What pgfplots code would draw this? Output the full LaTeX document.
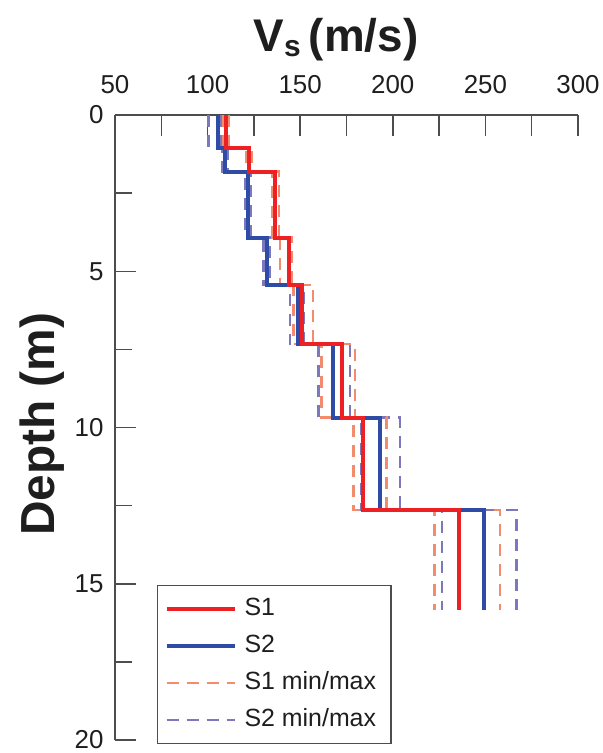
\documentclass[border=0pt]{standalone}
\usepackage{fontspec}
\setmainfont{Liberation Sans}
\usepackage{pgfplots}
\pgfplotsset{compat=1.18}
\definecolor{sred}{HTML}{ED2124}
\definecolor{sblue}{HTML}{2E4CA6}
\definecolor{dred}{HTML}{F28C6E}
\definecolor{dblue}{HTML}{7C78BE}
\definecolor{axgray}{HTML}{4D4D4D}
\definecolor{txt}{HTML}{1E1E1E}
\begin{document}
\begin{tikzpicture}
\begin{axis}[
  scale only axis, width=463bp, height=625bp,
  xmin=50, xmax=300, ymin=0, ymax=20, y dir=reverse,
  axis x line*=top, axis y line*=left,
  axis line style={draw=axgray, line width=1.5bp},
  tick align=inside,
  major tick length=21bp, minor tick length=17bp,
  tick style={draw=axgray, line width=1.5bp},
  xtick={50,75,...,300}, xticklabels={50,,100,,150,,200,,250,,300},
  ytick={0,5,...,20}, minor ytick={2.5,7.5,12.5,17.5},
  /pgf/number format/assume math mode=true,
  ticklabel style={font=\fontsize{26}{30}\selectfont, text=txt},
  xticklabel style={yshift=18bp},
  yticklabel style={xshift=-8bp},
  title={V{\fontsize{30}{32}\selectfont\raisebox{-5bp}{s}}\hspace{8bp}(m/s)},
  title style={at={(axis description cs:0.4773,1.092)}, anchor=base, font=\fontsize{46}{50}\selectfont\bfseries, text=txt},
  ylabel={Depth (m)},
  ylabel style={at={(axis description cs:-0.1577,0.505)}, anchor=center, font=\fontsize{48}{52}\selectfont\bfseries, text=txt},
  legend cell align=left,
  legend image code/.code={\draw[#1] (0bp,0bp) -- (68bp,0bp);},
  legend style={at={(axis description cs:0.0907,0.248)}, anchor=north west,
    draw=axgray, line width=1.2bp, fill=white,
    inner xsep=7bp, inner ysep=5bp,
    font=\fontsize{25}{28}\selectfont, text=txt,
    nodes={inner xsep=8bp, inner ysep=7.5bp, text height=17bp, text depth=5bp}},
  clip=false,
]
% S2 min / max
\addplot[dblue, line width=2.5bp, dash pattern=on 12bp off 8bp, forget plot] coordinates {
(100.5,0)(100.5,1.05)(108,1.05)(108,1.81)(120.3,1.81)(120.3,3.92)(130.2,3.92)(130.2,5.44)(144.5,5.44)(144.5,7.33)(160,7.33)(160,9.68)(182.7,9.68)(182.7,12.64)(226.7,12.64)(226.7,15.84)};
\addplot[dblue, line width=2.5bp, dash pattern=on 12bp off 8bp, forget plot] coordinates {
(107,0)(107,1.05)(110.8,1.05)(110.8,1.81)(123.3,1.81)(123.3,3.92)(133.7,3.92)(133.7,5.44)(152,5.44)(152,7.33)(177,7.33)(177,9.68)(203.9,9.68)(203.9,12.64)(266.9,12.64)(266.9,15.84)};
% S1 min / max
\addplot[dred, line width=2.5bp, dash pattern=on 12bp off 8bp, forget plot] coordinates {
(108.3,0)(108.3,1.05)(121,1.05)(121,1.81)(135,1.81)(135,3.92)(139,3.92)(139,5.44)(146.5,5.44)(146.5,7.33)(161.5,7.33)(161.5,9.68)(178.7,9.68)(178.7,12.64)(222.4,12.64)(222.4,15.84)};
\addplot[dred, line width=2.5bp, dash pattern=on 12bp off 8bp, forget plot] coordinates {
(111.3,0)(111.3,1.05)(124,1.05)(124,1.81)(138.5,1.81)(138.5,3.92)(145.6,3.92)(145.6,5.44)(157,5.44)(157,7.33)(179.6,7.33)(179.6,9.68)(196.7,9.68)(196.7,12.64)(257.9,12.64)(257.9,15.84)};
% S2
\addplot[sblue, line width=4bp, forget plot] coordinates {
(105.8,0)(105.8,1.05)(109.4,1.05)(109.4,1.81)(121.8,1.81)(121.8,3.92)(131.9,3.92)(131.9,5.44)(148.8,5.44)(148.8,7.33)(167.9,7.33)(167.9,9.68)(193.1,9.68)(193.1,12.64)(249.4,12.64)(249.4,15.84)};
% S1
\addplot[sred, line width=4bp, forget plot] coordinates {
(109.8,0)(109.8,1.05)(122.5,1.05)(122.5,1.81)(136.5,1.81)(136.5,3.92)(143.8,3.92)(143.8,5.44)(151.2,5.44)(151.2,7.33)(172.4,7.33)(172.4,9.68)(184.1,9.68)(184.1,12.64)(235.9,12.64)(235.9,15.84)};
\addlegendimage{sred, line width=4bp}
\addlegendentry{S1}
\addlegendimage{sblue, line width=4bp}
\addlegendentry{S2}
\addlegendimage{dred, line width=2.5bp, dash pattern=on 12bp off 8bp}
\addlegendentry{S1 min/max}
\addlegendimage{dblue, line width=2.5bp, dash pattern=on 12bp off 8bp}
\addlegendentry{S2 min/max}
\end{axis}
\pgfresetboundingbox
\path[use as bounding box] (-115bp,-13bp) rectangle (488bp,740bp);
\end{tikzpicture}
\end{document}
